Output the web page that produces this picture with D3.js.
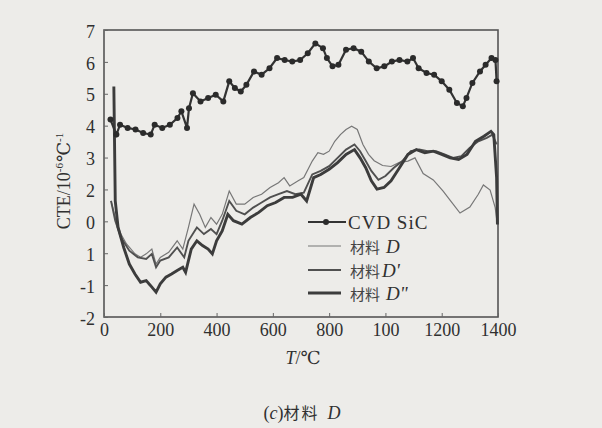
<!DOCTYPE html>
<html>
<head>
<meta charset="utf-8">
<script src="https://cdn.jsdelivr.net/npm/d3@7"></script>
<style>
  html, body { margin: 0; padding: 0; background: #edece9; }
  svg { display: block; }
  text { font-family: "Liberation Serif", "DejaVu Serif", serif; fill: #303030; }
  .cjk { font-family: "Noto Sans CJK SC", sans-serif; }
</style>
</head>
<body>
<svg id="chart" width="602" height="428"></svg>
<script>
// ---- data ----
const xTickValues = [0, 200, 400, 600, 800, 1000, 1200, 1400];
const xTickLabels = ["0", "200", "400", "600", "800", "100", "1200", "1400"];
const yTickValues = [-2, -1, 0, 1, 2, 3, 4, 5, 6, 7];
const yTickLabels = ["-2", "-1", "1", "0", "2", "3", "4", "5", "6", "7"];

const sicT = [23, 44, 57, 84, 112, 139, 166, 180, 207, 234, 261, 275, 295, 302, 316, 343, 370, 397, 424, 445, 465, 486, 506, 533, 560, 588, 615, 642, 669, 697, 724, 751, 778, 792, 812, 833, 860, 887, 914, 941, 969, 996, 1023, 1050, 1078, 1098, 1118, 1146, 1173, 1200, 1227, 1254, 1275, 1288, 1309, 1336, 1356, 1377, 1391, 1395];
const sicV = [4.19, 3.72, 4.03, 3.93, 3.88, 3.77, 3.72, 4.03, 3.93, 4.03, 4.24, 4.45, 3.93, 4.55, 5.02, 4.76, 4.87, 4.97, 4.76, 5.39, 5.18, 5.07, 5.28, 5.70, 5.60, 5.80, 6.12, 6.06, 6.01, 6.06, 6.27, 6.58, 6.43, 6.12, 5.86, 5.91, 6.38, 6.43, 6.32, 6.01, 5.80, 5.86, 6.01, 6.06, 6.01, 6.12, 5.80, 5.65, 5.60, 5.39, 5.13, 4.71, 4.61, 4.87, 5.34, 5.70, 5.91, 6.12, 6.06, 5.39];

const dT = [25, 40, 60, 80, 110, 130, 150, 170, 185, 200, 230, 260, 280, 300, 320, 340, 360, 380, 400, 420, 445, 470, 500, 530, 560, 590, 620, 640, 660, 690, 710, 740, 760, 780, 800, 820, 840, 860, 880, 900, 920, 940, 960, 990, 1020, 1050, 1080, 1105, 1134, 1170, 1205, 1235, 1265, 1300, 1330, 1348, 1372, 1390, 1397];
const dV = [1.64, 1.12, 0.60, 0.29, -0.02, -0.13, -0.02, 0.13, -0.34, -0.13, 0.03, 0.39, 0.13, 0.81, 1.54, 1.22, 0.81, 1.12, 0.91, 1.22, 1.95, 1.54, 1.54, 1.75, 1.85, 2.06, 2.21, 2.37, 2.11, 2.27, 2.37, 2.89, 3.15, 3.10, 3.20, 3.51, 3.72, 3.88, 3.98, 3.88, 3.41, 3.10, 2.90, 2.75, 2.72, 2.85, 2.89, 2.99, 2.50, 2.30, 1.95, 1.60, 1.26, 1.45, 1.85, 2.14, 1.98, 1.43, 0.96];

const d1T = [25, 40, 60, 90, 120, 150, 170, 185, 200, 230, 260, 285, 300, 330, 355, 380, 400, 420, 445, 470, 500, 530, 560, 590, 620, 650, 680, 710, 740, 770, 800, 830, 860, 890, 910, 930, 950, 975, 1000, 1030, 1060, 1090, 1120, 1150, 1180, 1210, 1240, 1270, 1300, 1330, 1360, 1380, 1395];
const d1V = [1.64, 1.02, 0.50, 0.08, -0.13, -0.18, -0.02, -0.44, -0.23, -0.13, 0.18, -0.13, 0.39, 0.81, 0.60, 0.76, 0.60, 1.02, 1.64, 1.33, 1.22, 1.43, 1.59, 1.75, 1.85, 1.95, 1.85, 1.90, 2.47, 2.58, 2.73, 2.99, 3.25, 3.41, 3.20, 2.89, 2.58, 2.30, 2.42, 2.68, 2.89, 3.20, 3.25, 3.20, 3.20, 3.10, 2.99, 3.04, 3.31, 3.51, 3.62, 3.72, 3.41];

const d2T = [35, 40, 50, 70, 90, 110, 130, 150, 165, 185, 200, 220, 240, 260, 280, 290, 310, 330, 350, 370, 385, 400, 420, 440, 460, 490, 520, 550, 580, 610, 640, 670, 700, 720, 745, 770, 800, 830, 860, 890, 910, 930, 950, 970, 995, 1020, 1050, 1080, 1110, 1140, 1170, 1200, 1230, 1260, 1290, 1320, 1350, 1375, 1385, 1395, 1398];
const d2V = [5.23, 1.64, 0.81, 0.18, -0.34, -0.65, -0.91, -0.86, -1.01, -1.22, -0.96, -0.75, -0.65, -0.54, -0.44, -0.60, 0.13, 0.39, 0.24, 0.13, -0.02, 0.39, 0.70, 1.22, 1.02, 0.91, 1.12, 1.28, 1.49, 1.59, 1.75, 1.75, 1.85, 1.64, 2.37, 2.47, 2.63, 2.84, 3.10, 3.25, 2.99, 2.68, 2.27, 2.01, 2.06, 2.27, 2.68, 3.10, 3.25, 3.15, 3.20, 3.10, 2.99, 2.94, 3.10, 3.51, 3.67, 3.82, 3.72, 2.37, 0.90];

const legendLabels = ["CVD SiC", "材料 D", "材料D'", "材料 D\""];

// ---- drawing ----
const svg = d3.select("#chart");
const x = d3.scaleLinear().domain([0, 1400]).range([104, 498]);
const y = d3.scaleLinear().domain([-2, 7]).range([317, 30]);

const zip = (a, b) => a.map((t, i) => [t, b[i]]);
const line = d3.line().x(d => x(d[0])).y(d => y(d[1])).curve(d3.curveLinear);

// frame
svg.append("rect")
  .attr("x", x(0)).attr("y", y(7))
  .attr("width", x(1400) - x(0)).attr("height", y(-2) - y(7))
  .attr("fill", "none").attr("stroke", "#555").attr("stroke-width", 1.6);

// axes
const xAxis = d3.axisBottom(x).tickValues(xTickValues)
  .tickFormat((d, i) => xTickLabels[i]).tickSizeInner(-4).tickSizeOuter(0).tickPadding(6);
const gx = svg.append("g").attr("transform", `translate(0,${y(-2)})`).call(xAxis);
gx.select(".domain").remove();
gx.selectAll("line").attr("stroke", "#666");
gx.selectAll("text").attr("font-size", 18).attr("fill", "#303030")
  .style("font-family", "'Liberation Serif', serif");

const yAxis = d3.axisLeft(y).tickValues(yTickValues)
  .tickFormat((d, i) => yTickLabels[i]).tickSizeInner(-4).tickSizeOuter(0).tickPadding(9);
const gy = svg.append("g").attr("transform", `translate(${x(0)},0)`).call(yAxis);
gy.select(".domain").remove();
gy.selectAll("line").attr("stroke", "#666");
gy.selectAll("text").attr("font-size", 18).attr("fill", "#303030").attr("dy", "0.4em")
  .style("font-family", "'Liberation Serif', serif");

// series
svg.append("path").datum(zip(dT, dV)).attr("d", line)
  .attr("fill", "none").attr("stroke", "#777").attr("stroke-width", 1.2);
svg.append("path").datum(zip(d1T, d1V)).attr("d", line)
  .attr("fill", "none").attr("stroke", "#505050").attr("stroke-width", 1.9);
svg.append("path").datum(zip(d2T, d2V)).attr("d", line)
  .attr("fill", "none").attr("stroke", "#3c3c3c").attr("stroke-width", 2.9);

const sic = zip(sicT, sicV);
svg.append("path").datum(sic).attr("d", line)
  .attr("fill", "none").attr("stroke", "#333").attr("stroke-width", 2.2);
svg.append("g").selectAll("circle").data(sic).join("circle")
  .attr("cx", d => x(d[0])).attr("cy", d => y(d[1])).attr("r", 3).attr("fill", "#2b2b2b");

// legend
const legY = [222, 246, 270, 293];
const legStyles = [
  {stroke: "#333", w: 2, marker: true, x2: 346},
  {stroke: "#777", w: 1.2, x2: 341},
  {stroke: "#505050", w: 1.9, x2: 341},
  {stroke: "#3c3c3c", w: 2.9, x2: 341}
];
legendLabels.forEach((lab, i) => {
  const g = svg.append("g");
  g.append("line").attr("x1", 308).attr("x2", legStyles[i].x2).attr("y1", legY[i]).attr("y2", legY[i])
    .attr("stroke", legStyles[i].stroke).attr("stroke-width", legStyles[i].w);
  if (legStyles[i].marker) g.append("circle").attr("cx", 326).attr("cy", legY[i]).attr("r", 3).attr("fill", "#2b2b2b");
  const t = g.append("text").attr("x", i === 0 ? 348 : 350).attr("y", legY[i]).attr("dy", "0.35em").attr("font-size", 19);
  if (i === 0) {
    t.attr("letter-spacing", 1).text(lab);
  } else {
    const m = lab.match(/^(材料)(\s?)(D.*)$/);
    t.append("tspan").attr("class", "cjk").attr("font-size", 15).attr("fill", "#444").text(m[1]);
    t.append("tspan").attr("font-style", "italic").attr("dx", m[2] ? 6 : 2).text(m[3]);
  }
});

// y title
const yt = svg.append("text").attr("transform", "translate(70,181) rotate(-90)")
  .attr("text-anchor", "middle").attr("font-size", 18);
yt.append("tspan").text("CTE/10");
yt.append("tspan").attr("font-size", 11).attr("dy", -7).text("-6");
yt.append("tspan").attr("dy", 7).attr("dx", 1).text("℃");
yt.append("tspan").attr("font-size", 11).attr("dy", -7).text("-1");

// x title
const xt = svg.append("text").attr("x", 303).attr("y", 364).attr("text-anchor", "middle").attr("font-size", 18);
xt.append("tspan").attr("font-style", "italic").text("T");
xt.append("tspan").text("/℃");

// caption
const cap = svg.append("text").attr("x", 302).attr("y", 419).attr("text-anchor", "middle").attr("font-size", 18);
cap.append("tspan").text("(");
cap.append("tspan").attr("font-style", "italic").text("c");
cap.append("tspan").text(")");
cap.append("tspan").attr("class", "cjk").attr("font-size", 16).attr("letter-spacing", 2).text("材料");
cap.append("tspan").attr("font-style", "italic").attr("dx", 8).text("D");
</script>
</body>
</html>
